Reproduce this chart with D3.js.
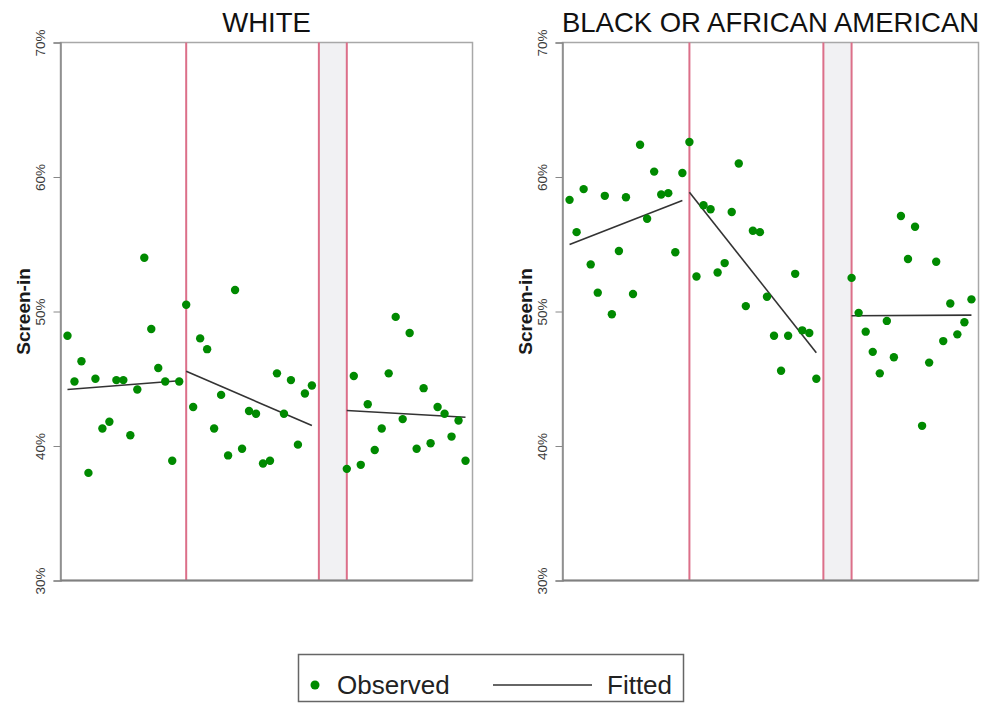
<!DOCTYPE html>
<html>
<head>
<meta charset="utf-8">
<script src="https://cdn.jsdelivr.net/npm/d3@7"></script>
<style>
body { margin: 0; background: #fff; }
svg { font-family: "Liberation Sans", Arial, sans-serif; }
</style>
</head>
<body>
<div id="chart"></div>
<script>
// month index of each observation (gap between 37 and 41)
let months = [1,2,3,4,5,6,7,8,9,10,11,12,13,14,15,16,17,
  18,19,20,21,22,23,24,25,26,27,28,29,30,31,32,33,34,35,36,
  41,42,43,44,45,46,47,48,49,50,51,52,53,54,55,56,57,58];

let whiteObs = [48.2,44.8,46.3,38.0,45.0,41.3,41.8,44.9,44.9,40.8,44.2,54.0,48.7,45.8,44.8,38.9,44.8,
  50.5,42.9,48.0,47.2,41.3,43.8,39.3,51.6,39.8,42.6,42.4,38.7,38.9,45.4,42.4,44.9,40.1,43.9,44.5,
  38.3,45.2,38.6,43.1,39.7,41.3,45.4,49.6,42.0,48.4,39.8,44.3,40.2,42.9,42.4,40.7,41.9,38.9];

let blackObs = [58.3,55.9,59.1,53.5,51.4,58.6,49.8,54.5,58.5,51.3,62.4,56.9,60.4,58.7,58.8,54.4,60.3,
  62.6,52.6,57.9,57.6,52.9,53.6,57.4,61.0,50.4,56.0,55.9,51.1,48.2,45.6,48.2,52.8,48.6,48.4,45.0,
  52.5,49.9,48.5,47.0,45.4,49.3,46.6,57.1,53.9,56.3,41.5,46.2,53.7,47.8,50.6,48.3,49.2,50.9];

// fitted segments: start month, end month
let segStart = [1, 18, 41];
let segEnd = [17, 36, 58];
let whiteFitStart = [44.2, 45.56, 42.64];
let whiteFitEnd = [44.85, 41.52, 42.14];
let blackFitStart = [54.98, 58.87, 49.68];
let blackFitEnd = [58.25, 46.93, 49.73];

let cutoffs = [18, 37, 41];
let yTicks = [30, 40, 50, 60, 70];

let panels = [
  {title: "WHITE", obs: whiteObs, fs: whiteFitStart, fe: whiteFitEnd, left: 60.5, right: 472.5},
  {title: "BLACK OR AFRICAN AMERICAN", obs: blackObs, fs: blackFitStart, fe: blackFitEnd, left: 562.5, right: 978.5}
];

let width = 990, height = 704;
let plotTop = 42.5, plotBottom = 580.5;

let svg = d3.select("#chart").append("svg").attr("width", width).attr("height", height);

let y = d3.scaleLinear().domain([30, 70]).range([plotBottom, plotTop]);

panels.forEach(p => {
  let x = d3.scaleLinear().domain([0, 59]).range([p.left, p.right]);
  let g = svg.append("g");

  // grey band between 2nd and 3rd cutoff
  g.append("rect")
    .attr("x", x(cutoffs[1])).attr("y", plotTop)
    .attr("width", x(cutoffs[2]) - x(cutoffs[1])).attr("height", plotBottom - plotTop)
    .attr("fill", "#f1f1f3");

  // frame
  g.append("rect")
    .attr("x", p.left).attr("y", plotTop)
    .attr("width", p.right - p.left).attr("height", plotBottom - plotTop)
    .attr("fill", "none").attr("stroke", "#a8a8a8").attr("stroke-width", 1.5);

  // cutoff lines
  g.selectAll(".cut").data(cutoffs).enter().append("line")
    .attr("x1", d => x(d)).attr("x2", d => x(d))
    .attr("y1", plotTop).attr("y2", plotBottom)
    .attr("stroke", "#dc6f89").attr("stroke-width", 2);

  // y axis
  let ax = g.append("g").attr("transform", "translate(" + p.left + ",0)")
    .call(d3.axisLeft(y).tickValues(yTicks).tickSize(7).tickFormat(d => d + "%"));
  ax.select(".domain").attr("stroke", "#888").attr("stroke-width", 1.5);
  ax.selectAll(".tick line").attr("stroke", "#888");
  ax.selectAll(".tick text")
    .attr("transform", "rotate(-90)")
    .attr("x", 0).attr("y", -16).attr("dy", 0)
    .attr("text-anchor", "middle")
    .attr("font-size", 13.5).attr("fill", "#3a3a3a");

  // bottom axis line
  g.append("line")
    .attr("x1", p.left).attr("x2", p.right).attr("y1", plotBottom).attr("y2", plotBottom)
    .attr("stroke", "#808080").attr("stroke-width", 2);

  g.append("text")
    .attr("transform", "translate(" + (p.left - 31) + "," + y(50) + ") rotate(-90)")
    .attr("text-anchor", "middle")
    .attr("font-size", 19).attr("font-weight", "bold").attr("fill", "#1a1a1a")
    .text("Screen-in");

  g.append("text")
    .attr("x", (p.left + p.right) / 2).attr("y", 32)
    .attr("text-anchor", "middle")
    .attr("font-size", 27.5).attr("fill", "#111")
    .text(p.title);

  // fitted lines
  g.selectAll(".fit").data(segStart).enter().append("line")
    .attr("x1", (d, i) => x(d)).attr("x2", (d, i) => x(segEnd[i]))
    .attr("y1", (d, i) => y(p.fs[i])).attr("y2", (d, i) => y(p.fe[i]))
    .attr("stroke", "#333").attr("stroke-width", 1.6);

  // observed points
  g.selectAll(".pt").data(p.obs).enter().append("circle")
    .attr("cx", (d, i) => x(months[i]))
    .attr("cy", d => y(d))
    .attr("r", 4.2)
    .attr("fill", "#008a00");
});

// legend
let lg = svg.append("g");
lg.append("rect").attr("x", 298.5).attr("y", 654.5).attr("width", 385).attr("height", 47)
  .attr("fill", "none").attr("stroke", "#666").attr("stroke-width", 1.5);
lg.append("circle").attr("cx", 315).attr("cy", 685).attr("r", 4.5).attr("fill", "#008a00");
lg.append("text").attr("x", 337).attr("y", 694).attr("font-size", 26).attr("fill", "#222").text("Observed");
lg.append("line").attr("x1", 493).attr("x2", 592).attr("y1", 685).attr("y2", 685)
  .attr("stroke", "#333").attr("stroke-width", 1.6);
lg.append("text").attr("x", 607).attr("y", 694).attr("font-size", 26).attr("fill", "#222").text("Fitted");
</script>
</body>
</html>
